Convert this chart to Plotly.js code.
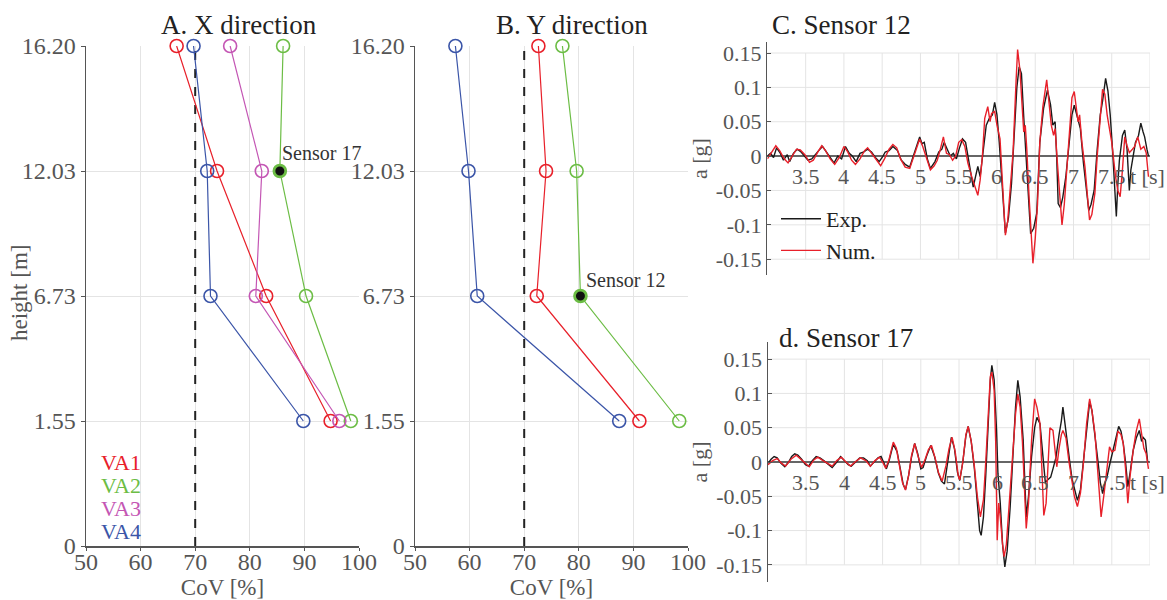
<!DOCTYPE html>
<html>
<head>
<meta charset="utf-8">
<script src="https://cdn.plot.ly/plotly-3.0.1.min.js"></script>
<style>html,body{margin:0;padding:0;background:#fff}#chart{width:1167px;height:600px}</style>
</head>
<body>
<div id="chart"></div>
<script>
// ---------- Data: CoV profiles ----------
const heightCategories = ['0', '1.55', '6.73', '12.03', '16.20'];
const heights = ['16.20', '12.03', '6.73', '1.55'];
const covTicks = [50, 60, 70, 80, 90, 100];
const covThreshold = 70;

const VA1_X = [66.6, 74.0, 83.0, 94.8];
const VA2_X = [86.1, 85.5, 90.3, 98.5];
const VA3_X = [76.4, 82.2, 81.1, 96.4];
const VA4_X = [69.7, 72.2, 72.8, 89.8];

const VA1_Y = [72.6, 74.0, 72.3, 91.1];
const VA2_Y = [77.0, 79.6, 80.3, 98.4];
const VA4_Y = [57.4, 59.8, 61.4, 87.4];

const sensor17Index = 1; // VA2, X direction, 12.03 m
const sensor12Index = 2; // VA2, Y direction, 6.73 m

// ---------- Data: acceleration time histories ----------
const timeTicks = [3.5, 4, 4.5, 5, 5.5, 6, 6.5, 7, 7.5];
const timeGrid = [3.5, 4, 4.5, 5, 5.5, 6, 6.5, 7, 7.5, 8];
const accTicks = [-0.15, -0.1, -0.05, 0, 0.05, 0.1, 0.15];
const accTickText = ['-0.15', '-0.1', '-0.05', '0', '0.05', '0.1', '0.15'];
const accGrid = [-0.15, -0.1, -0.05, 0.05, 0.1, 0.15];

// Sensor 12 - Exp.
const s12ExpT = [3.00,3.04,3.08,3.12,3.17,3.21,3.26,3.29,3.34,3.39,3.44,3.48,3.53,3.58,3.62,3.67,3.72,3.77,3.82,3.87,3.92,3.97,4.02,4.07,4.11,4.16,4.21,4.26,4.31,4.36,4.41,4.46,4.50,4.54,4.59,4.64,4.70,4.75,4.80,4.86,4.93,4.99,5.02,5.05,5.09,5.13,5.19,5.24,5.28,5.31,5.35,5.39,5.43,5.47,5.51,5.55,5.59,5.63,5.67,5.69,5.72,5.75,5.78,5.82,5.86,5.90,5.94,5.97,6.00,6.03,6.07,6.11,6.15,6.19,6.22,6.26,6.29,6.32,6.35,6.38,6.41,6.44,6.48,6.52,6.56,6.61,6.66,6.70,6.73,6.76,6.78,6.80,6.83,6.86,6.90,6.94,6.98,7.01,7.04,7.06,7.09,7.13,7.17,7.20,7.23,7.27,7.31,7.35,7.38,7.42,7.45,7.48,7.51,7.54,7.56,7.58,7.60,7.64,7.67,7.70,7.73,7.75,7.78,7.81,7.85,7.88,7.91,7.93,7.96,7.98];
const s12ExpA = [0.000,0.004,-0.002,0.012,0.004,-0.006,0.002,-0.008,0.004,0.010,0.006,0.000,-0.006,-0.004,0.002,0.008,0.014,0.006,-0.002,-0.010,0.000,-0.004,0.014,0.004,0.000,-0.008,0.004,0.006,0.010,0.006,-0.002,-0.008,-0.002,0.006,0.008,0.014,0.008,-0.006,-0.012,-0.016,0.008,0.028,0.018,0.020,-0.004,-0.018,-0.008,0.006,0.010,0.020,0.010,0.000,0.004,-0.004,0.012,0.025,0.020,-0.005,-0.035,-0.045,-0.030,-0.015,-0.030,0.010,0.045,0.055,0.060,0.078,0.060,0.020,-0.050,-0.112,-0.090,-0.040,0.020,0.100,0.130,0.120,0.057,-0.006,-0.060,-0.113,-0.105,-0.083,0.020,0.070,0.096,0.075,0.045,0.050,0.000,-0.069,-0.075,-0.060,-0.030,0.020,0.060,0.074,0.060,0.055,0.040,-0.010,-0.050,-0.079,-0.070,-0.050,0.010,0.060,0.080,0.113,0.095,0.060,0.010,-0.040,-0.088,-0.040,-0.006,0.030,0.038,0.010,-0.050,-0.020,0.000,0.020,0.030,0.048,0.035,0.028,0.010,0.000];

// Sensor 12 - Num.
const s12NumT = [3.00,3.06,3.11,3.16,3.22,3.27,3.33,3.38,3.43,3.49,3.55,3.60,3.66,3.71,3.76,3.82,3.88,3.94,4.00,4.05,4.10,4.15,4.21,4.27,4.31,4.36,4.42,4.48,4.53,4.59,4.64,4.69,4.74,4.80,4.86,4.93,4.99,5.03,5.08,5.13,5.18,5.22,5.26,5.30,5.34,5.38,5.42,5.46,5.50,5.54,5.58,5.62,5.67,5.71,5.75,5.78,5.81,5.84,5.88,5.91,5.93,5.97,6.00,6.04,6.07,6.11,6.14,6.17,6.21,6.25,6.27,6.30,6.33,6.35,6.37,6.39,6.42,6.47,6.50,6.53,6.56,6.60,6.65,6.68,6.71,6.74,6.76,6.79,6.82,6.85,6.88,6.91,6.95,6.98,7.01,7.04,7.06,7.08,7.11,7.15,7.18,7.21,7.24,7.28,7.31,7.34,7.38,7.41,7.44,7.47,7.50,7.52,7.55,7.58,7.61,7.64,7.67,7.70,7.73,7.77,7.80,7.84,7.88,7.92,7.95,7.98];
const s12NumA = [-0.004,0.006,0.015,0.008,-0.004,-0.010,0.000,0.010,0.009,0.002,-0.009,-0.006,0.006,0.015,0.008,-0.004,-0.012,-0.002,0.014,0.006,-0.006,-0.012,-0.004,0.008,0.012,0.004,-0.006,-0.014,-0.004,0.010,0.017,0.012,-0.004,-0.016,-0.018,0.004,0.025,0.014,-0.002,-0.020,-0.014,-0.006,0.010,0.028,0.004,0.002,-0.006,0.000,0.020,0.024,0.014,-0.010,-0.030,-0.045,-0.057,-0.035,0.000,0.055,0.072,0.050,0.062,0.065,0.045,0.025,-0.040,-0.115,-0.095,-0.055,0.005,0.110,0.155,0.125,0.060,0.035,0.045,0.010,-0.060,-0.156,-0.120,-0.070,0.020,0.072,0.111,0.080,0.045,0.030,0.040,-0.010,-0.060,-0.100,-0.070,-0.025,0.040,0.085,0.094,0.070,0.050,0.060,0.020,-0.016,-0.060,-0.093,-0.085,-0.054,0.000,0.048,0.097,0.090,0.060,0.040,0.020,0.000,-0.030,-0.050,-0.059,-0.020,0.028,0.015,0.005,0.010,0.014,0.028,0.010,0.014,0.005,-0.030];

// Sensor 17 - Exp.
const s17ExpT = [3.00,3.04,3.08,3.12,3.17,3.22,3.27,3.31,3.35,3.39,3.44,3.49,3.53,3.58,3.63,3.68,3.73,3.79,3.84,3.90,3.95,4.00,4.05,4.09,4.15,4.20,4.25,4.30,4.34,4.39,4.44,4.48,4.52,4.55,4.59,4.64,4.69,4.73,4.77,4.80,4.84,4.88,4.92,4.96,5.00,5.03,5.08,5.13,5.18,5.23,5.27,5.31,5.35,5.40,5.44,5.48,5.51,5.55,5.59,5.62,5.66,5.70,5.74,5.77,5.79,5.82,5.85,5.88,5.91,5.93,5.96,5.99,6.01,6.04,6.07,6.10,6.13,6.17,6.21,6.24,6.27,6.30,6.34,6.36,6.38,6.41,6.45,6.49,6.52,6.56,6.60,6.63,6.67,6.70,6.73,6.77,6.81,6.84,6.86,6.89,6.91,6.95,6.98,7.02,7.05,7.09,7.13,7.17,7.21,7.24,7.28,7.32,7.35,7.38,7.41,7.44,7.48,7.52,7.56,7.59,7.62,7.65,7.68,7.71,7.74,7.78,7.82,7.86,7.89,7.91,7.94,7.97];
const s17ExpA = [-0.002,0.004,0.008,0.006,-0.002,-0.007,0.000,0.008,0.012,0.010,0.004,-0.004,-0.006,0.002,0.008,0.006,0.002,-0.004,-0.008,0.000,0.008,0.002,-0.004,-0.006,0.000,0.006,0.006,0.002,-0.006,0.000,0.006,0.008,-0.004,-0.010,0.004,0.026,0.015,-0.010,-0.033,-0.040,-0.020,0.008,0.027,0.012,-0.010,-0.008,0.010,0.024,0.008,-0.016,-0.028,-0.032,0.000,0.036,0.020,-0.015,-0.027,0.000,0.038,0.052,0.030,-0.008,-0.060,-0.100,-0.107,-0.080,-0.020,0.060,0.120,0.141,0.120,0.050,-0.017,-0.060,-0.120,-0.153,-0.130,-0.065,0.017,0.080,0.119,0.095,0.032,-0.040,-0.080,-0.050,0.008,0.050,0.065,0.056,0.000,-0.030,-0.025,-0.022,-0.010,0.007,0.040,0.060,0.080,0.050,0.032,0.000,-0.025,-0.045,-0.056,-0.040,0.000,0.050,0.088,0.075,0.041,0.000,-0.030,-0.046,-0.030,-0.020,0.000,0.020,0.040,0.052,0.045,0.027,0.000,-0.036,-0.015,0.017,0.035,0.046,0.030,0.036,0.032,0.000];

// Sensor 17 - Num.
const s17NumT = [3.00,3.06,3.12,3.18,3.23,3.30,3.37,3.43,3.50,3.54,3.60,3.65,3.72,3.78,3.84,3.90,3.96,4.02,4.08,4.14,4.21,4.28,4.34,4.40,4.46,4.50,4.54,4.58,4.64,4.68,4.72,4.76,4.80,4.84,4.88,4.92,4.96,5.01,5.05,5.10,5.14,5.19,5.23,5.28,5.33,5.37,5.41,5.45,5.49,5.51,5.55,5.59,5.62,5.66,5.70,5.74,5.78,5.82,5.85,5.88,5.91,5.93,5.96,5.98,6.00,6.02,6.04,6.07,6.09,6.12,6.16,6.20,6.24,6.27,6.30,6.33,6.36,6.38,6.41,6.45,6.49,6.52,6.56,6.58,6.61,6.64,6.67,6.69,6.73,6.76,6.78,6.81,6.84,6.86,6.90,6.94,6.97,7.01,7.05,7.09,7.13,7.17,7.21,7.24,7.28,7.32,7.35,7.36,7.40,7.43,7.47,7.50,7.54,7.58,7.62,7.65,7.68,7.71,7.74,7.78,7.82,7.86,7.89,7.92,7.95,7.98];
const s17NumA = [-0.004,0.002,0.005,-0.002,-0.006,0.004,0.010,0.004,-0.004,-0.007,0.003,0.007,0.002,-0.002,-0.006,0.002,0.007,0.000,-0.006,0.000,0.006,0.002,-0.006,0.002,0.007,0.000,-0.009,0.002,0.029,0.020,-0.005,-0.030,-0.041,-0.020,0.010,0.027,0.010,-0.008,0.002,0.018,0.024,0.005,-0.015,-0.028,-0.005,0.020,0.036,0.015,-0.020,-0.026,0.000,0.040,0.052,0.030,-0.005,-0.050,-0.080,-0.055,0.000,0.070,0.125,0.131,0.105,0.030,-0.114,-0.060,-0.080,-0.120,-0.138,-0.120,-0.060,0.010,0.070,0.099,0.080,0.030,-0.040,-0.097,-0.060,0.032,0.092,0.080,0.056,0.000,-0.078,-0.060,0.000,0.050,0.046,0.010,-0.007,0.020,0.040,0.046,0.035,0.000,-0.022,-0.050,-0.065,-0.045,0.000,0.056,0.092,0.075,0.041,-0.017,-0.070,-0.080,-0.045,-0.017,0.022,0.015,0.017,0.045,0.040,0.027,-0.010,-0.060,-0.020,0.017,0.045,0.063,0.040,0.020,0.012,-0.010];

// ---------- Styles ----------
const SERIF = '"Liberation Serif", "Times New Roman", serif';
const C_RED = '#e8202a', C_GREEN = '#6cbd45', C_MAG = '#c456b4', C_BLUE = '#3b55a8';
const AX_COL = '#555555';
const GRID_COL = '#e4e4e4';

function profile(xv, color, xa, ya) {
  return {
    x: xv, y: heights, xaxis: xa, yaxis: ya, type: 'scatter', mode: 'lines+markers',
    line: {color: color, width: 1.2},
    marker: {symbol: 'circle-open', size: 13, color: color, line: {width: 1.6, color: color}},
    cliponaxis: false, showlegend: false, hoverinfo: 'skip'
  };
}
function sensorPoint(xv, idx, xa, ya) {
  return {
    x: [xv[idx]], y: [heights[idx]], xaxis: xa, yaxis: ya, type: 'scatter', mode: 'markers',
    marker: {symbol: 'circle', size: 11, color: '#111', line: {width: 2, color: C_GREEN}},
    cliponaxis: false, showlegend: false, hoverinfo: 'skip'
  };
}
function threshold(xa, ya) {
  return {
    x: [covThreshold, covThreshold], y: [heightCategories[0], heightCategories[heightCategories.length - 1]],
    xaxis: xa, yaxis: ya, type: 'scatter', mode: 'lines',
    line: {color: '#222', width: 2, dash: 'dash'}, showlegend: false, hoverinfo: 'skip'
  };
}
function series(t, a, color, name, xa, ya, showLegend) {
  return {
    x: t, y: a, xaxis: xa, yaxis: ya, type: 'scatter', mode: 'lines', name: name,
    line: {color: color, width: 1.4}, showlegend: showLegend, hoverinfo: 'skip'
  };
}

const traces = [
  threshold('x', 'y'),
  profile(VA1_X, C_RED, 'x', 'y'),
  profile(VA2_X, C_GREEN, 'x', 'y'),
  profile(VA3_X, C_MAG, 'x', 'y'),
  profile(VA4_X, C_BLUE, 'x', 'y'),
  sensorPoint(VA2_X, sensor17Index, 'x', 'y'),

  threshold('x2', 'y2'),
  profile(VA1_Y, C_RED, 'x2', 'y2'),
  profile(VA2_Y, C_GREEN, 'x2', 'y2'),
  profile(VA4_Y, C_BLUE, 'x2', 'y2'),
  sensorPoint(VA2_Y, sensor12Index, 'x2', 'y2'),

  series(s12ExpT, s12ExpA, '#1a1a1a', 'Exp.', 'x3', 'y3', true),
  series(s12NumT, s12NumA, C_RED, 'Num.', 'x3', 'y3', true),
  series(s17ExpT, s17ExpA, '#1a1a1a', 'Exp.', 'x4', 'y4', false),
  series(s17NumT, s17NumA, C_RED, 'Num.', 'x4', 'y4', false)
];

const tickFontBig = {family: SERIF, size: 24, color: AX_COL};
const tickFontTS = {family: SERIF, size: 22, color: AX_COL};

function covAxis(domain, anchor) {
  return {
    domain: domain, anchor: anchor, range: [50, 100], tickvals: covTicks,
    showline: true, linecolor: AX_COL, linewidth: 1.5, mirror: false,
    ticks: 'outside', ticklen: 3, tickcolor: AX_COL, tickfont: tickFontBig, ticklabelstandoff: -9,
    showgrid: true, gridcolor: GRID_COL, gridwidth: 1, zeroline: false,
    title: {text: 'CoV [%]', font: {family: SERIF, size: 23, color: AX_COL}, standoff: 8}
  };
}
function heightAxis(domain, anchor) {
  return {
    domain: domain, anchor: anchor, type: 'category', categoryorder: 'array',
    categoryarray: heightCategories, range: [0, heightCategories.length - 1],
    showline: true, linecolor: AX_COL, linewidth: 1.5,
    ticks: 'outside', ticklen: 4, tickcolor: AX_COL, tickfont: tickFontBig, ticklabelstandoff: 0,
    showgrid: true, gridcolor: GRID_COL, gridwidth: 1, zeroline: false
  };
}
function timeAxis(domain, anchor) {
  return {
    domain: domain, anchor: anchor, range: [3, 8], showline: false, showgrid: false,
    zeroline: false, showticklabels: false, ticks: ''
  };
}
function accAxis(domain, anchor, range) {
  return {
    domain: domain, anchor: anchor, range: range, tickvals: accTicks, ticktext: accTickText,
    showline: true, linecolor: AX_COL, linewidth: 1.5, ticks: 'inside', ticklen: 4, tickcolor: AX_COL,
    tickfont: tickFontTS, showgrid: false,
    zeroline: true, zerolinecolor: '#666', zerolinewidth: 1.5,
    title: {text: 'a [g]', font: {family: SERIF, size: 22, color: AX_COL}, standoff: 2}
  };
}

// Grid shapes for time-history panels (bounded to the +/-0.15 box)
const shapes = [];
[['x3', 'y3'], ['x4', 'y4']].forEach(([xa, ya]) => {
  timeGrid.forEach(t => shapes.push({type: 'line', xref: xa, yref: ya, x0: t, x1: t,
    y0: accGrid[0], y1: accGrid[accGrid.length - 1], line: {color: GRID_COL, width: 1}, layer: 'below'}));
  accGrid.forEach(v => shapes.push({type: 'line', xref: xa, yref: ya, x0: 3, x1: 8,
    y0: v, y1: v, line: {color: GRID_COL, width: 1}, layer: 'below'}));
});

const annotations = [];
function paperText(text, px, py, size, color, xanchor, angle) {
  annotations.push({text: text, xref: 'paper', yref: 'paper', x: px / 1167, y: 1 - py / 600,
    xanchor: xanchor || 'center', yanchor: 'middle', showarrow: false, textangle: angle || 0,
    font: {family: SERIF, size: size, color: color || '#222'}});
}
paperText('A. X direction', 239, 25, 27, '#222');
paperText('B. Y direction', 572, 25, 27, '#222');
paperText('C. Sensor 12', 770, 25, 27, '#222', 'left');
paperText('d. Sensor 17', 777, 338, 27, '#222', 'left');
paperText('height [m]', 19, 293, 23, AX_COL, 'center', -90);

const vaNames = ['VA1', 'VA2', 'VA3', 'VA4'];
const vaColors = [C_RED, C_GREEN, C_MAG, C_BLUE];
vaNames.forEach((n, i) => paperText(n, 99, 462 + i * 23, 22, vaColors[i], 'left'));

annotations.push({text: 'Sensor 17', xref: 'x', yref: 'y', x: VA2_X[sensor17Index],
  y: heightCategories.indexOf(heights[sensor17Index]),
  xanchor: 'left', yanchor: 'bottom', xshift: 0, yshift: 5, showarrow: false,
  font: {family: SERIF, size: 20, color: '#333'}});
annotations.push({text: 'Sensor 12', xref: 'x2', yref: 'y2', x: VA2_Y[sensor12Index],
  y: heightCategories.indexOf(heights[sensor12Index]),
  xanchor: 'left', yanchor: 'bottom', xshift: 4, yshift: 3, showarrow: false,
  font: {family: SERIF, size: 20, color: '#333'}});

[['x3', 'y3'], ['x4', 'y4']].forEach(([xa, ya]) => {
  timeTicks.forEach(t => annotations.push({text: String(t), xref: xa, yref: ya, x: t, y: 0,
    xanchor: 'center', yanchor: 'top', yshift: -6, showarrow: false, font: tickFontTS}));
  annotations.push({text: 't [s]', xref: 'paper', yref: ya, x: 1, y: 0, xanchor: 'right', yanchor: 'top',
    yshift: -6, showarrow: false, font: tickFontTS});
});

const layout = {
  width: 1167, height: 600, margin: {l: 0, r: 0, t: 0, b: 0},
  paper_bgcolor: '#fff', plot_bgcolor: 'rgba(0,0,0,0)',
  font: {family: SERIF, color: '#222'},
  xaxis: covAxis([86 / 1167, 359 / 1167], 'y'),
  yaxis: heightAxis([1 - 546 / 600, 1 - 46 / 600], 'x'),
  xaxis2: covAxis([415 / 1167, 688 / 1167], 'y2'),
  yaxis2: heightAxis([1 - 546 / 600, 1 - 46 / 600], 'x2'),
  xaxis3: timeAxis([767.4 / 1167, 1150 / 1167], 'y3'),
  yaxis3: accAxis([1 - 275 / 600, 1 - 42 / 600], 'x3', [-0.173, 0.166]),
  xaxis4: timeAxis([768 / 1167, 1150 / 1167], 'y4'),
  yaxis4: accAxis([1 - 582 / 600, 1 - 342 / 600], 'x4', [-0.175, 0.175]),
  shapes: shapes,
  annotations: annotations,
  showlegend: true,
  legend: {x: 776 / 1167, y: 1 - 198 / 600, xanchor: 'left', yanchor: 'top',
    bgcolor: 'rgba(0,0,0,0)', borderwidth: 0, itemwidth: 40,
    font: {family: SERIF, size: 22, color: '#222'}}
};

Plotly.newPlot('chart', traces, layout, {staticPlot: true, displayModeBar: false});
</script>
</body>
</html>
